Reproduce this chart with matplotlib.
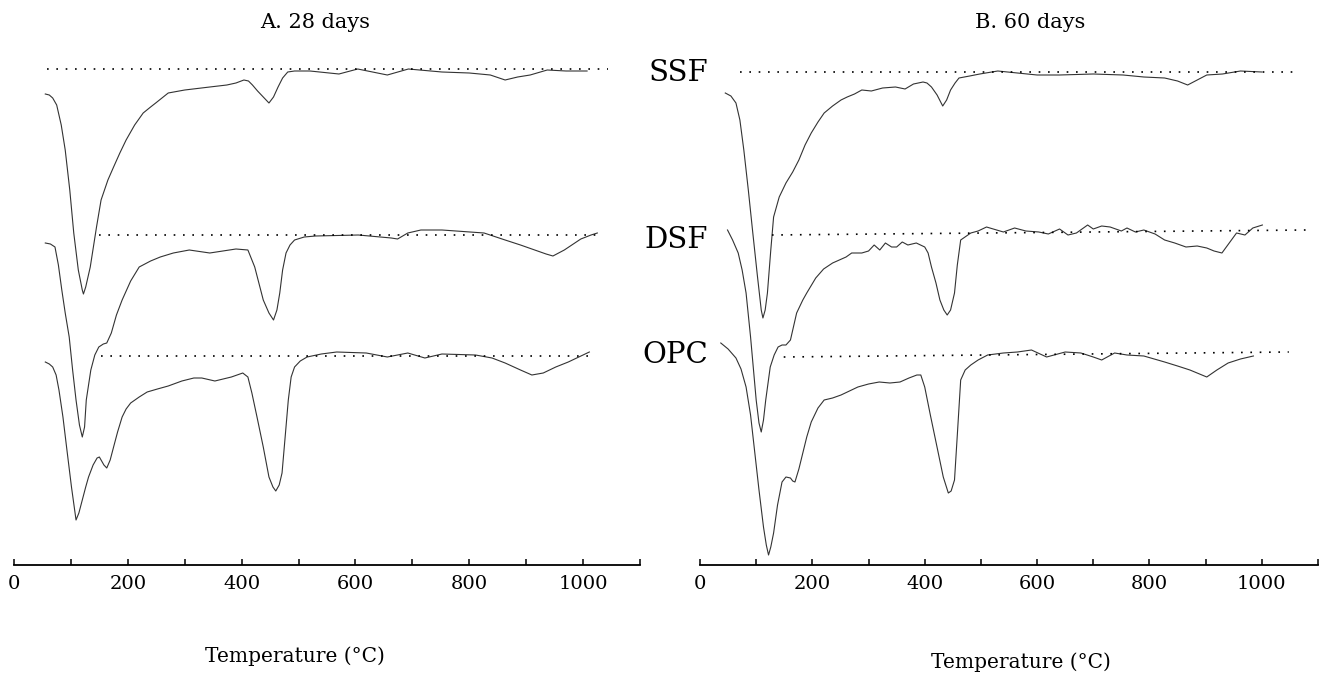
import matplotlib
matplotlib.use("Agg")
import matplotlib.pyplot as plt
from matplotlib.ticker import FixedLocator

plt.rcParams['font.family'] = ['DejaVu Serif']

# ---- A. 28 days (temperature in degC, signal in arbitrary units) ----
ssf28_t = [55, 62, 68, 75, 83, 90, 98, 105, 113, 120, 122, 126, 134, 145, 153, 165, 175, 186, 197, 212,
           227, 240, 249, 260, 271, 300, 344, 374, 390, 404, 412, 419, 428, 438, 448, 456, 464, 472, 481,
           493, 520, 571, 604, 656, 693, 752, 800, 837, 863, 885, 907, 937, 970, 1007]
ssf28_v = [471, 470, 467, 460, 440, 415, 375, 332, 295, 275, 271, 278, 298, 338, 365, 385, 398, 412, 425,
           440, 452, 458, 462, 467, 472, 475, 478, 480, 482, 485, 484, 480, 474, 468, 462, 468, 478, 487,
           493, 494, 494, 491, 496, 490, 496, 493, 492, 490, 485, 488, 490, 495, 494, 494]

dsf28_t = [55, 64, 72, 78, 84, 90, 97, 103, 109, 115, 120, 124, 127, 135, 142, 149, 157, 163, 171, 180,
           190, 205, 220, 240, 257, 280, 308, 344, 390, 411, 423, 438, 448, 456, 462, 467, 472, 478, 485,
           493, 510, 530, 605, 663, 674, 692, 715, 752, 826, 863, 890, 915, 935, 947, 967, 996, 1014, 1025]
dsf28_v = [322, 321, 318, 300, 275, 252, 228, 195, 165, 140, 128, 138, 165, 195, 210, 218, 221, 222, 232,
           250, 265, 284, 298, 304, 308, 312, 315, 312, 316, 315, 298, 265, 252, 245, 255, 272, 295, 312, 320,
           325, 328, 329, 330, 327, 326, 332, 335, 335, 332, 325, 320, 315, 311, 309, 315, 326, 330, 332]

opc28_t = [55, 62, 68, 74, 79, 86, 93, 101, 109, 114, 120, 126, 131, 139, 146, 150, 153, 158, 163, 169,
           175, 182, 190, 197, 205, 220, 234, 252, 271, 295, 316, 330, 353, 382, 402, 411, 418, 427, 438,
           448, 455, 460, 466, 471, 476, 482, 487, 493, 503, 515, 540, 567, 619, 656, 692, 722, 752, 811,
           840, 863, 890, 910, 930, 952, 974, 1011]
opc28_v = [203, 201, 198, 190, 175, 148, 115, 78, 45, 52, 65, 78, 88, 100, 107, 108, 105, 100, 97, 105,
           118, 133, 148, 156, 162, 168, 173, 176, 179, 184, 187, 187, 184, 188, 192, 188, 172, 148, 118,
           88, 78, 74, 80, 92, 125, 165, 188, 198, 204, 208, 211, 213, 212, 208, 212, 207, 211, 210,
           207, 202, 195, 190, 192, 198, 203, 213]

# ---- B. 60 days ----
ssf60_t = [45, 55, 64, 71, 78, 86, 94, 102, 109, 112, 116, 120, 126, 131, 141, 153, 165, 176, 187, 198,
           210, 221, 236, 251, 262, 275, 288, 305, 325, 348, 365, 380, 397, 404, 412, 422, 432, 439, 446,
           454, 461, 480, 498, 530, 565, 600, 640, 700, 753, 790, 827, 850, 868, 885, 902, 930, 962, 1000]
ssf60_v = [472, 469, 462, 445, 415, 375, 332, 290, 255, 247, 255, 272, 315, 348, 368, 382, 393, 405, 420,
           432, 443, 452, 459, 465, 468, 471, 475, 474, 477, 478, 476, 481, 483, 482, 478, 470, 459, 465, 475,
           482, 487, 489, 491, 494, 492, 490, 490, 491, 490, 488, 487, 484, 480, 485, 490, 491, 494, 493]

dsf60_t = [49, 58, 68, 75, 82, 90, 100, 105, 109, 113, 117, 125, 132, 139, 146, 153, 161, 172, 183, 190,
           206, 220, 236, 260, 270, 288, 300, 310, 320, 330, 341, 350, 360, 370, 385, 400, 406, 412, 420,
           427, 434, 440, 446, 453, 458, 464, 482, 495, 510, 528, 540, 560, 580, 603, 620, 640, 655, 670,
           685, 690, 700, 715, 730, 750, 760, 775, 790, 810, 827, 845, 865, 885, 902, 915, 929, 942, 955,
           970, 984, 1001]
dsf60_v = [335, 325, 312, 295, 272, 228, 165, 142, 133, 145, 165, 198, 210, 218, 220, 220, 225, 252, 265,
           272, 287, 296, 302, 308, 312, 312, 314, 320, 315, 322, 318, 318, 323, 320, 322, 318, 312, 298, 282,
           265, 255, 250, 255, 272, 300, 325, 332, 334, 338, 335, 333, 337, 334, 333, 331, 336, 330, 332,
           338, 340, 336, 339, 338, 334, 337, 333, 335, 331, 325, 322, 318, 319, 317, 314, 312, 322, 332,
           330, 337, 340]

opc60_t = [37, 50, 64, 73, 82, 90, 97, 105, 113, 118, 122, 126, 131, 138, 146, 153, 161, 165, 169, 176,
           183, 190, 198, 210, 221, 236, 251, 266, 281, 300, 319, 338, 356, 372, 386, 393, 400, 410, 423,
           433, 442, 447, 453, 458, 464, 472, 482, 495, 512, 540, 565, 590, 617, 650, 678, 700, 715, 738,
           760, 790, 827, 850, 872, 902, 920, 940, 962, 985]
opc60_v = [222, 216, 207, 196, 178, 150, 115, 75, 38, 20, 10, 18, 32, 60, 83, 88, 87, 84, 83, 96,
           112, 128, 143, 157, 165, 167, 170, 174, 178, 181, 183, 182, 183, 187, 190, 190, 178, 150, 115,
           88, 72, 74, 85, 130, 185, 195, 200, 205, 210, 212, 213, 215, 208, 213, 212, 208, 205, 212,
           210, 209, 203, 199, 195, 188, 195, 202, 206, 209]

# dotted reference baselines: (t_start, t_end, v_start, v_end)
base28 = {'SSF': (58, 1044, 496, 496), 'DSF': (149, 1030, 330, 330), 'OPC': (153, 1011, 209, 209)}
base60 = {'SSF': (71, 1059, 493, 493), 'DSF': (128, 1078, 330, 335), 'OPC': (149, 1048, 208, 213)}

panel_titles = ['A. 28 days', 'B. 60 days']
sample_names = ['SSF', 'DSF', 'OPC']
label_y_px = [73, 240, 355]

W, H = 1330, 679
fig = plt.figure(figsize=(W / 100, H / 100), dpi=100)


def px_rect(x0, x1, ytop, ybot):
    return [x0 / W, 1 - ybot / H, (x1 - x0) / W, (ybot - ytop) / H]


ax1 = fig.add_axes(px_rect(14, 640, 30, 565))
ax2 = fig.add_axes(px_rect(700, 1318, 30, 565))

curve_style = dict(color='#333333', lw=0.8)
dot_style = dict(color='black', lw=1.2, linestyle=(0, (1, 4.6)))

ax1.plot(ssf28_t, ssf28_v, **curve_style)
ax1.plot(dsf28_t, dsf28_v, **curve_style)
ax1.plot(opc28_t, opc28_v, **curve_style)
ax2.plot(ssf60_t, ssf60_v, **curve_style)
ax2.plot(dsf60_t, dsf60_v, **curve_style)
ax2.plot(opc60_t, opc60_v, **curve_style)

for ax, base in [(ax1, base28), (ax2, base60)]:
    for name in sample_names:
        t0, t1, v0, v1 = base[name]
        ax.plot([t0, t1], [v0, v1], **dot_style)

for ax in (ax1, ax2):
    ax.set_xlim(0, 1100)
    ax.set_ylim(0, 535)
    for s in ('left', 'right', 'top'):
        ax.spines[s].set_visible(False)
    ax.spines['bottom'].set_linewidth(1.3)
    ax.set_yticks([])
    ax.xaxis.set_major_locator(FixedLocator([0, 200, 400, 600, 800, 1000]))
    ax.xaxis.set_minor_locator(FixedLocator([100, 300, 500, 700, 900, 1100]))
    ax.tick_params(axis='x', which='both', direction='in', length=4, width=1.1, pad=7,
                   labelsize=14, colors='black')
    ax.patch.set_visible(False)

fig.text(315 / W, 1 - 22 / H, panel_titles[0], ha='center', va='center', fontsize=15)
fig.text(1030 / W, 1 - 22 / H, panel_titles[1], ha='center', va='center', fontsize=15)
fig.text(295 / W, 1 - 656 / H, 'Temperature (°C)', ha='center', va='center', fontsize=14.5)
fig.text(1021 / W, 1 - 662 / H, 'Temperature (°C)', ha='center', va='center', fontsize=14.5)

for name, ypx in zip(sample_names, label_y_px):
    fig.text(708 / W, 1 - ypx / H, name, ha='right', va='center', fontsize=21)

fig.savefig('out.png', dpi=100)
